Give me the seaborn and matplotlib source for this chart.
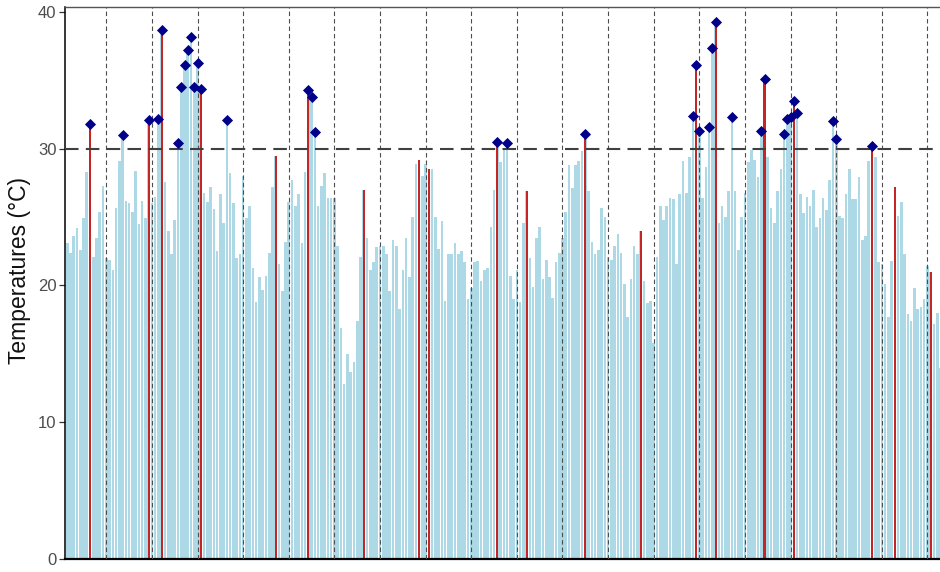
import numpy as np
import pandas as pd
import matplotlib
matplotlib.use("Agg")
import matplotlib.pyplot as plt
import seaborn as sns

# ---- data (daily temperatures, °C) ----
temps = [
    23.1, 22.4, 23.6, 24.2, 22.6, 24.9, 28.3, 31.8, 22.1, 23.5,
    25.4, 27.3, 22.0, 21.9, 21.1, 25.7, 29.1, 31.0, 26.2, 26.0,
    25.4, 28.4, 24.5, 26.2, 24.9, 32.1, 26.0, 26.5, 32.2, 38.7,
    27.6, 24.0, 22.3, 24.8, 30.4, 34.5, 36.1, 37.2, 38.2, 34.5,
    36.3, 34.4, 26.8, 26.1, 27.2, 25.6, 22.5, 26.7, 24.6, 32.1,
    28.2, 26.0, 22.0, 22.3, 28.0, 24.9, 25.8, 21.3, 18.8, 20.6,
    19.7, 20.7, 22.4, 27.2, 29.5, 21.6, 19.6, 23.2, 26.1, 27.7,
    25.8, 26.7, 23.1, 28.3, 34.3, 33.8, 31.2, 25.8, 27.3, 28.2,
    26.4, 26.4, 26.4, 22.9, 16.9, 12.8, 15.0, 13.7, 14.4, 17.4,
    22.1, 27.0, 23.5, 21.1, 21.7, 22.8, 22.9, 22.9, 22.3, 19.6,
    23.3, 22.9, 18.3, 21.1, 23.5, 20.6, 25.0, 28.9, 29.2, 28.0,
    28.9, 28.5, 28.5, 25.0, 22.7, 24.7, 18.9, 22.3, 22.3, 23.1,
    22.3, 22.5, 21.7, 19.0, 19.8, 21.7, 21.8, 20.3, 21.1, 21.3,
    24.3, 27.0, 30.5, 29.0, 29.9, 30.4, 20.7, 19.0, 21.1, 18.8,
    24.6, 26.9, 22.0, 19.9, 23.5, 24.3, 20.5, 21.9, 20.6, 19.1,
    21.7, 22.4, 23.5, 25.4, 28.8, 27.1, 28.8, 29.1, 29.8, 31.1,
    26.9, 23.2, 22.3, 22.6, 25.7, 25.0, 22.1, 21.9, 22.9, 23.8,
    22.4, 20.1, 17.7, 20.5, 22.9, 22.3, 24.0, 20.3, 18.7, 18.9,
    15.8, 22.1, 25.8, 24.8, 25.8, 26.4, 26.3, 21.6, 26.7, 29.1,
    26.8, 29.4, 32.4, 36.1, 31.3, 26.4, 28.7, 31.6, 37.4, 39.3,
    24.6, 25.8, 25.0, 26.9, 32.3, 26.9, 22.6, 25.0, 26.8, 29.0,
    29.9, 29.2, 27.9, 31.3, 35.1, 29.4, 25.7, 24.6, 26.9, 28.5,
    31.1, 32.2, 32.3, 33.5, 32.6, 26.7, 25.3, 26.5, 25.8, 27.0,
    24.3, 24.9, 26.4, 25.5, 27.7, 32.0, 30.7, 25.1, 24.9, 26.7,
    28.5, 26.3, 26.3, 27.9, 23.3, 23.6, 29.1, 30.2, 29.4, 21.7,
    21.6, 20.1, 17.7, 21.8, 27.2, 25.1, 26.1, 22.3, 17.9, 17.4,
    19.8, 18.3, 18.4, 19.0, 21.4, 21.0, 17.2, 18.0, 14.0,
]
red_days = [7, 25, 29, 41, 64, 74, 91, 108, 111, 132, 141, 159, 176,
            193, 199, 214, 223, 247, 254, 265]
threshold = 30
y_ticks = [0, 10, 20, 30, 40]
fortnight_lines = list(range(12, 269, 14))

# ---- style ----
sns.set_theme(style="white")
plt.rcParams["font.family"] = ["Liberation Sans", "DejaVu Sans"]

W, H = 940, 572
fig = plt.figure(figsize=(W / 100, H / 100), dpi=100)
left_px, right_px, top_px, bottom_px = 64.7, 940, 7, 559
ax = fig.add_axes([left_px / W, (H - bottom_px) / H,
                   (right_px - left_px) / W, (bottom_px - top_px) / H])

df = pd.DataFrame({"day": np.arange(len(temps)), "temp": temps})
df["red"] = df["day"].isin(red_days)

sns.barplot(data=df, x="day", y="temp", native_scale=True, color="#ADD8E6",
            saturation=1, width=0.8, errorbar=None, linewidth=0, ax=ax)
red_df = df.assign(temp=np.where(df["red"], df["temp"], 0.0))
sns.barplot(data=red_df, x="day", y="temp", native_scale=True, color="#C42626",
            saturation=1, width=0.68, errorbar=None, linewidth=0, ax=ax)

for d in fortnight_lines:
    ax.axvline(d, color="#4d4d4d", lw=0.8, ls=(0, (4, 2.7)), zorder=3)
ax.axhline(threshold, color="#404040", lw=1.5, ls=(0, (6.5, 3.5)), zorder=4)

hot = df[df["temp"] > threshold]
sns.scatterplot(data=hot, x="day", y="temp", marker="D", color="#00008B",
                s=32, linewidth=0, ax=ax, zorder=6, legend=False)

ax.set_xlim((left_px - 67.2) / 3.2585, (right_px - 67.2) / 3.2585)
ax.set_ylim(0, (bottom_px - top_px) / 13.675)
ax.set_xticks([])
ax.set_xlabel("")
ax.set_yticks(y_ticks)
ax.set_yticklabels([str(t) for t in y_ticks])
ax.tick_params(axis="y", left=True, length=4, width=0.9, color="#333333",
               labelsize=12, labelcolor="#4D4D4D", pad=2)
ax.set_ylabel("")
fig.text(20 / W, 1 - 271 / H, "Temperatures (°C)", rotation=90,
         ha="center", va="center", fontsize=16.5, color="#111111")

ax.spines["right"].set_visible(False)
ax.spines["left"].set_visible(True)
ax.spines["bottom"].set_visible(True)
ax.spines["top"].set_visible(True)
ax.spines["left"].set_color("black")
ax.spines["left"].set_linewidth(1.1)
ax.spines["bottom"].set_color("black")
ax.spines["bottom"].set_linewidth(1.6)
ax.spines["top"].set_color("#555555")
ax.spines["top"].set_linewidth(1.0)
ax.set_facecolor("white")
fig.patch.set_facecolor("white")

fig.savefig("out.png", dpi=100)
